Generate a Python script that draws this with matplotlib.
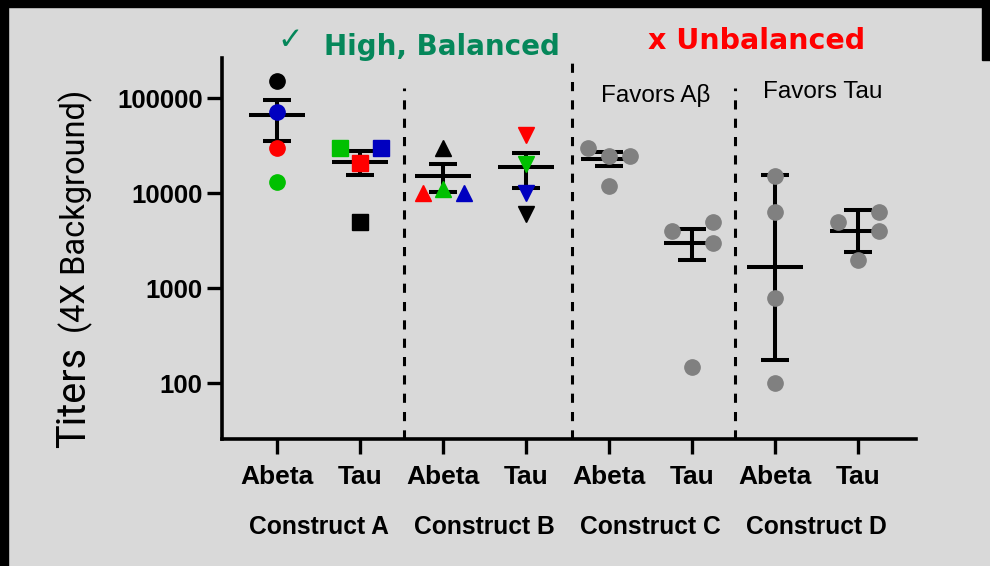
import numpy as np
import matplotlib.pyplot as plt
from matplotlib.patches import Rectangle
from matplotlib.ticker import FixedLocator, FuncFormatter

plt.rcParams['font.family'] = ['Liberation Sans', 'DejaVu Sans']

# ---- data ----
group_labels = ["Abeta", "Tau", "Abeta", "Tau", "Abeta", "Tau", "Abeta", "Tau"]
construct_labels = ["Construct A", "Construct B", "Construct C", "Construct D"]

# individual titers, 4 animals per group
titers = [
    [152000, 72300, 30200, 13060],   # A / Abeta
    [30200, 30200, 21000, 5020],     # A / Tau
    [30000, 10000, 11100, 10000],    # B / Abeta
    [41100, 20400, 10070, 6080],     # B / Tau
    [30000, 24900, 24900, 12020],    # C / Abeta
    [4010, 5020, 2980, 150],         # C / Tau
    [15200, 6400, 796, 100],         # D / Abeta
    [4990, 6400, 4010, 1990],        # D / Tau
]
# summary line and error bar ends per group
center = [67300, 21500, 15300, 19050, 23000, 3020, 1690, 4040]
err_low = [35800, 15600, 10400, 11470, 19500, 1990, 176, 2430]
err_high = [96700, 27500, 20500, 26800, 27400, 4180, 15700, 6670]

# ---- styling ----
BG = '#d9d9d9'
GREY = '#808080'
BLK, BLU, RED, GRN = '#000000', '#0000c0', '#ff0000', '#00c000'
point_colors = [
    [BLK, BLU, RED, GRN],
    [GRN, BLU, RED, BLK],
    [BLK, RED, GRN, BLU],
    [RED, GRN, BLU, BLK],
    [GREY] * 4, [GREY] * 4, [GREY] * 4, [GREY] * 4,
]
markers = ['o', 's', '^', 'v', 'o', 'o', 'o', 'o']
jitter = [
    [0, 0, 0, 0],
    [-0.24, 0.25, 0, 0],
    [0, -0.24, 0, 0.25],
    [0, 0, 0, 0],
    [-0.25, 0, 0.25, 0],
    [-0.24, 0.25, 0.25, 0],
    [0, 0, 0, 0],
    [-0.24, 0.25, 0.25, 0],
]

W, H = 990, 566
fig = plt.figure(figsize=(W / 100, H / 100), dpi=100, facecolor=BG)
ax = fig.add_axes([222 / W, 1 - 439 / H, (916 - 222) / W, (439 - 58) / H])
ax.set_facecolor(BG)

xpos = np.arange(1, len(group_labels) + 1)
LW = 2.9
for i, x in enumerate(xpos):
    ax.vlines(x, err_low[i], err_high[i], color='k', lw=LW, zorder=2)
    ax.hlines([err_low[i], err_high[i]], x - 0.17, x + 0.17, color='k', lw=LW, zorder=2)
    ax.hlines(center[i], x - 0.34, x + 0.34, color='k', lw=LW, zorder=2)
    for v, c, dx in zip(titers[i], point_colors[i], jitter[i]):
        ms = 11.5 if markers[i] in '^v' else 11
        ax.plot(x + dx, v, marker=markers[i], ms=ms, color=c, mec=c,
                linestyle='none', zorder=3)

# dashed separators between constructs
sep_x = [2.53, 4.55, 6.52]
sep_top = [128000, 259000, 128000]
for sx, top in zip(sep_x, sep_top):
    ax.vlines(sx, 25.9, top, color='k', lw=2.2, linestyles=(0, (3, 3)), zorder=1)

ax.set_yscale('log')
ax.set_ylim(25.9, 265000)
ax.set_xlim(0.337, 8.699)
ax.yaxis.set_major_locator(FixedLocator([100, 1000, 10000, 100000]))
ax.yaxis.set_major_formatter(FuncFormatter(lambda v, p: f"{int(round(v))}"))
ax.yaxis.set_minor_locator(FixedLocator([]))
ax.set_xticks(xpos)
ax.set_xticklabels(group_labels, fontsize=19, fontweight='bold')
for lab in ax.get_yticklabels():
    lab.set_fontsize(18.5)
    lab.set_fontweight('bold')
ax.tick_params(axis='both', length=11, width=2.4, color='k', direction='out')
ax.tick_params(axis='x', pad=8)
ax.tick_params(axis='y', pad=3)
for s in ['top', 'right']:
    ax.spines[s].set_visible(False)
for s in ['left', 'bottom']:
    ax.spines[s].set_linewidth(2.6)

for k, name in enumerate(construct_labels):
    ax.text(1.5 + 2 * k, -0.231, name, transform=ax.get_xaxis_transform(),
            ha='center', va='center', fontsize=17.7, fontweight='bold')

# panel annotations
ax.text(5.566, 108000, "Favors A\u03b2", ha='center', va='center', fontsize=17.5)
ax.text(7.578, 116000, "Favors Tau", ha='center', va='center', fontsize=17.5)

# y axis label with two text sizes
ylab_font = ['Roboto', 'DejaVu Sans']
fig.text(85 / W, 1 - 397 / H, "Titers", rotation=90, rotation_mode='anchor',
         ha='center', va='baseline', fontsize=28.5, family=ylab_font)
fig.text(85 / W, 1 - 211 / H, "(4X Background)", rotation=90, rotation_mode='anchor',
         ha='center', va='baseline', fontsize=23.5, family=ylab_font)

# headings above the plot
fig.text(290 / W, 1 - 41 / H, "\u2713", ha='center', va='center', fontsize=22,
         color='#05875a', family=['DejaVu Sans'])
fig.text(324 / W, 1 - 55 / H, "High, Balanced", ha='left', va='baseline',
         fontsize=20, fontweight='bold', color='#05875a', family=['DejaVu Sans'])
fig.text(648 / W, 1 - 49 / H, "x Unbalanced", ha='left', va='baseline',
         fontsize=20.5, fontweight='bold', color=RED, family=['DejaVu Sans'])

# black frame along the left and top edges
fig.patches.append(Rectangle((0, 0), 8 / W, 1, transform=fig.transFigure,
                             color='k', zorder=10))
fig.patches.append(Rectangle((0, 1 - 7 / H), 1, 7 / H, transform=fig.transFigure,
                             color='k', zorder=10))
fig.patches.append(Rectangle((1 - 8 / W, 1 - 60 / H), 8 / W, 60 / H,
                             transform=fig.transFigure, color='k', zorder=10))

fig.savefig('out.png', dpi=100, facecolor=BG)
